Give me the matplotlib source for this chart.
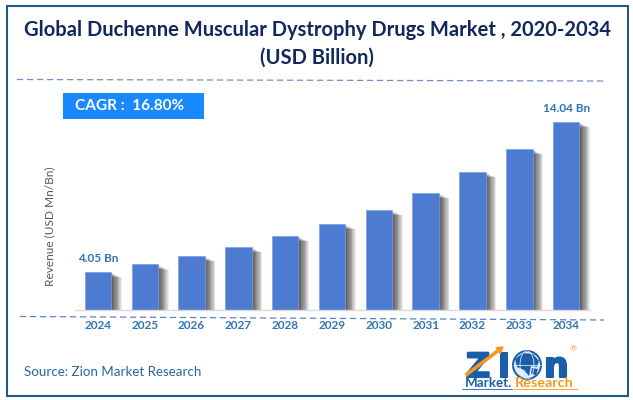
import matplotlib
matplotlib.use("Agg")
import matplotlib.pyplot as plt
import matplotlib.patheffects as pe
from matplotlib.patches import Rectangle, Circle, Ellipse, Polygon, FancyArrow
from matplotlib.lines import Line2D

years = ["2024", "2025", "2026", "2027", "2028", "2029", "2030", "2031", "2032", "2033", "2034"]
values = [4.05, 4.56, 5.12, 5.72, 6.45, 7.25, 8.18, 9.31, 10.71, 12.24, 14.04]
point_labels = {0: "4.05 Bn", 10: "14.04 Bn"}
title_lines = ["Global Duchenne Muscular Dystrophy Drugs Market , 2020-2034", "(USD Billion)"]
cagr = "CAGR :  16.80%"
ylabel = "Revenue (USD Mn/Bn)"
source = "Source: Zion Market Research"

W, H = 633, 400
plt.rcParams["font.family"] = ["Lato", "DejaVu Sans"]
fig = plt.figure(figsize=(W / 100, H / 100), dpi=100, facecolor="white")

# overlay in pixel coordinates (y down)
ov = fig.add_axes([0, 0, 1, 1], zorder=0)
ov.set_xlim(0, W); ov.set_ylim(H, 0); ov.axis("off")

ov.add_patch(Rectangle((6.5, 5.5), 621, 390, fill=False, ec="#1f5a8a", lw=1.5))
ov.add_line(Line2D([17, 604], [79.5, 81], color="#6f8fd0", lw=0.9, dashes=(5, 3)))
ov.add_line(Line2D([20, 604], [316.5, 320], color="#5b84cc", lw=0.9, dashes=(5, 3)))

for line, y in zip(title_lines, (30, 58)):
    ov.text(317, y, line, ha="center", va="center", fontsize=14.5, fontweight="bold", color="#10285e")
ov.add_patch(Rectangle((63, 93), 141, 26, fc="#1a88ff", ec="none"))
ov.text(75, 106, cagr, ha="left", va="center", fontsize=11.1, fontweight="bold", color="white")
ov.text(50, 226.5, ylabel, rotation=90, ha="center", va="center", fontsize=8.6, color="#595959")
ov.text(24, 372, source, ha="left", va="center", fontsize=9.6, color="#2a66a0")

# logo
blue, orange = "#1b5ea8", "#f39a1e"
stroke = [pe.withStroke(linewidth=1.5, foreground=blue)]
for ch, x, fs in (("Z", 466, 24), ("I", 498, 24), ("n", 544, 25)):
    ov.text(x, 377, ch, fontsize=fs, fontweight="bold", color=blue, ha="left", va="baseline",
            family="DejaVu Sans", path_effects=stroke)
ov.add_patch(Circle((527, 365), 14, fc="#dfe9f5", ec=blue, lw=1.4))
ov.add_patch(Polygon([(515, 359), (523, 353), (533, 354), (539, 361), (537, 367), (531, 366),
                      (529, 376), (524, 370), (517, 367)], fc=blue, ec="none"))
ov.add_patch(Polygon([(532, 368), (538, 369), (536, 375), (531, 374)], fc=blue, ec="none"))
ov.add_patch(Ellipse((527, 365), 14, 28, fill=False, ec="white", lw=0.5))
ov.add_line(Line2D([513, 541], [365, 365], color="white", lw=0.5))
ov.add_patch(FancyArrow(466, 375, 37, -28, width=2.2, head_width=7, head_length=6,
                        length_includes_head=True, color=orange, zorder=4))
ov.text(465, 387, "Market.", fontsize=9.6, fontweight="bold", color=blue, ha="left", va="baseline")
ov.text(515, 387, "Research", fontsize=10.4, fontweight="bold", color=orange, ha="left", va="baseline")
ov.text(573, 349, "®", fontsize=6, color=orange, ha="center", va="center")
ov.add_line(Line2D([462, 512], [389, 389], color=blue, lw=0.6))
ov.add_line(Line2D([514, 577], [389, 389], color=orange, lw=0.6))

# chart axes, placed so the baseline sits at y=310
left, right, top, bottom = 75, 590, 90, 310
ax = fig.add_axes([left / W, 1 - bottom / H, (right - left) / W, (bottom - top) / H], zorder=1)
ax.patch.set_alpha(0)
xs = list(range(len(years)))
ax.set_xlim(-0.49, 10.51)
ax.set_ylim(1.52, 1.52 + (bottom - top) * 0.0666)
offsets = [7.6, 7.0, 6.4, 5.8, 5.2, 4.6, 4.0, 3.4, 2.8, 2.2, 1.6, 1.0]
shadow = [pe.SimplePatchShadow(offset=(o, -0.5 - o * 0.45), shadow_rgbFace="#000000", alpha=0.075)
          for o in offsets] + [pe.Normal()]
bars = ax.bar(xs, values, width=0.565, color="#4d7bd1", edgecolor="#7d9fe0", linewidth=0.5)
for b in bars:
    b.set_path_effects(shadow)
for i, lab in point_labels.items():
    ax.annotate(lab, (i, values[i]), xytext=(0, 6), textcoords="offset points", ha="center",
                va="bottom", fontsize=8.5, fontweight="bold", color="#2e75b6")
ax.set_xticks(xs, years)
ax.tick_params(axis="x", length=0, pad=7.5, labelsize=8.5, labelcolor="#2e75b6")
for t in ax.get_xticklabels():
    t.set_fontweight("bold")
ax.set_yticks([])
for s in ("top", "left", "right"):
    ax.spines[s].set_visible(False)
ax.spines["bottom"].set_color("#d9d9d9")
ax.spines["bottom"].set_linewidth(1)

fig.savefig("out.png", dpi=100, facecolor="white")
